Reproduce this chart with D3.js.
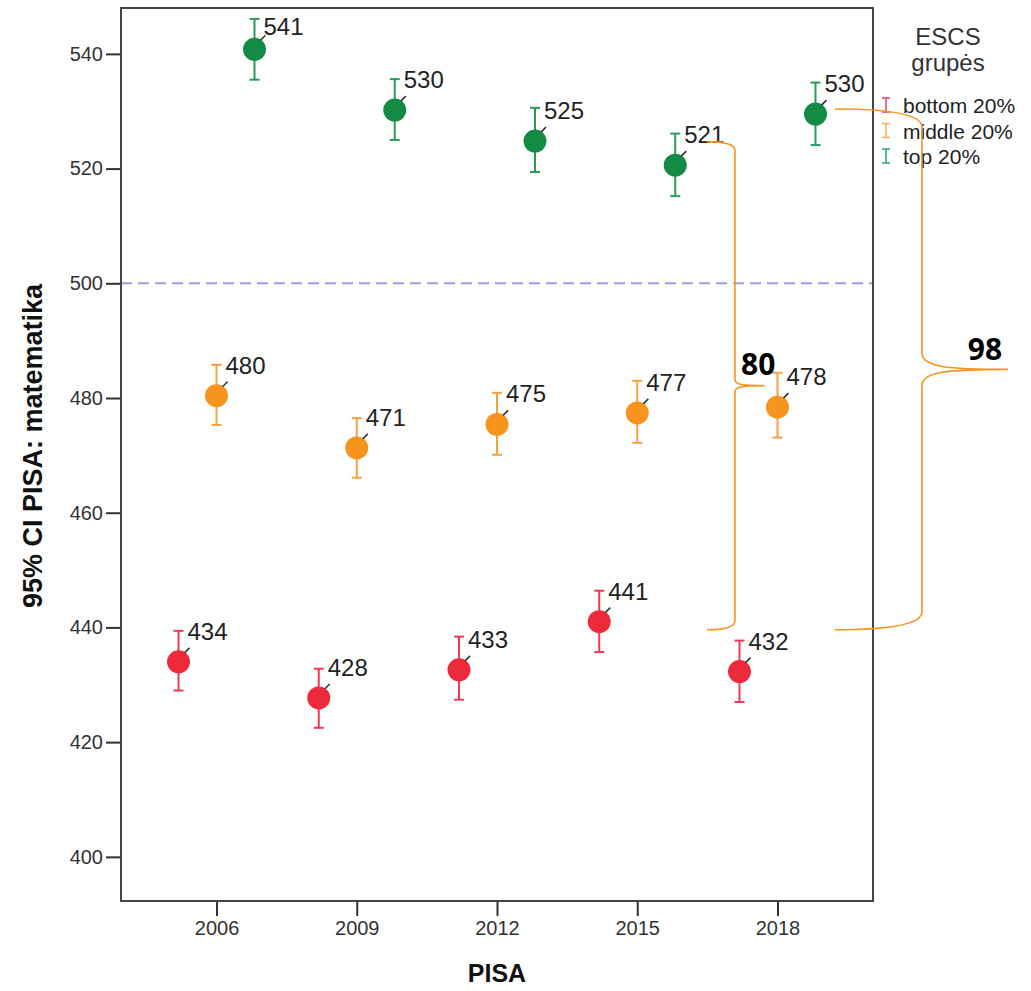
<!DOCTYPE html>
<html>
<head>
<meta charset="utf-8">
<script src="https://cdn.jsdelivr.net/npm/d3@7/dist/d3.min.js"></script>
<style>
  html, body { margin: 0; padding: 0; background: #fff; }
  svg { display: block; }
</style>
</head>
<body>
<svg id="chart" width="1031" height="991"></svg>
<script>
// ---------- data ----------
const years = [2006, 2009, 2012, 2015, 2018];
const groups = ["bottom 20%", "middle 20%", "top 20%"];
const bottomMean = [434.0, 427.7, 432.6, 441.0, 432.3];
const bottomLow  = [429.0, 422.5, 427.4, 435.7, 427.0];
const bottomHigh = [439.4, 432.8, 438.4, 446.4, 437.7];
const middleMean = [480.4, 471.3, 475.4, 477.4, 478.4];
const middleLow  = [475.3, 466.1, 470.1, 472.2, 473.1];
const middleHigh = [485.8, 476.5, 480.9, 483.0, 484.4];
const topMean    = [540.8, 530.2, 524.8, 520.6, 529.5];
const topLow     = [535.5, 525.0, 519.4, 515.2, 524.1];
const topHigh    = [546.1, 535.6, 530.6, 526.1, 535.0];
const yTicks = [400, 420, 440, 460, 480, 500, 520, 540];
const referenceValue = 500;
const legendTitle = ["ESCS", "grupės"];
const yTitle = "95% CI PISA: matematika";
const xTitle = "PISA";
// annotation braces (in data units: year position, score)
const braceLabels = ["80", "98"];
const braceTop = [524.7, 530.4];
const braceBottom = [439.6, 439.6];
const braceArmYear = [2016.49, 2019.23];
const braceSpineYear = [2017.09, 2021.09];
const braceTipYear = [2017.73, 2022.93];
const braceLabelYear = [2017.22, 2022.07];
const braceLabelValue = [484.0, 486.6];

// ---------- styling ----------
const dotColors = ["#ec2a3c", "#f7941d", "#138b45"];
const barColors = ["#ee3a52", "#f6a043", "#2a9a5c"];
const legendColors = ["#e8457a", "#f2b26e", "#3aa57a"];

const series = [
  {mean: bottomMean, lo: bottomLow, hi: bottomHigh},
  {mean: middleMean, lo: middleLow, hi: middleHigh},
  {mean: topMean, lo: topLow, hi: topHigh}
];

const svg = d3.select("#chart");
const plot = {left: 121, right: 873, top: 8, bottom: 901};

const x = d3.scalePoint().domain(years).range([plot.left, plot.right]).padding(0.681);
const xo = d3.scalePoint().domain(groups).range([-38, 38]);
const xl = d3.scaleLinear().domain([years[0], years[years.length - 1]])
  .range([x(years[0]), x(years[years.length - 1])]);
const y = d3.scaleLinear().domain([392.3, 548.0]).range([plot.bottom, plot.top]);

const font = "'Liberation Sans', Arial, sans-serif";

// reference line
svg.append("line")
  .attr("x1", plot.left).attr("x2", plot.right)
  .attr("y1", y(referenceValue)).attr("y2", y(referenceValue))
  .attr("stroke", "#9d9dd6").attr("stroke-width", 2)
  .attr("stroke-dasharray", "11,6");

// axes
const yAxis = d3.axisLeft(y).tickValues(yTicks).tickSize(15).tickPadding(3);
const gy = svg.append("g").attr("transform", `translate(${plot.left},0)`).call(yAxis);
gy.select(".domain").remove();
gy.selectAll(".tick line").attr("stroke", "#333").attr("stroke-width", 2);
gy.selectAll(".tick text").attr("font-family", font).attr("font-size", 20).attr("fill", "#333");

const xAxis = d3.axisBottom(x).tickSize(15).tickPadding(5);
const gx = svg.append("g").attr("transform", `translate(0,${plot.bottom})`).call(xAxis);
gx.select(".domain").remove();
gx.selectAll(".tick line").attr("stroke", "#333").attr("stroke-width", 2);
gx.selectAll(".tick text").attr("font-family", font).attr("font-size", 20).attr("fill", "#333");

// frame
svg.append("rect")
  .attr("x", plot.left).attr("y", plot.top)
  .attr("width", plot.right - plot.left).attr("height", plot.bottom - plot.top)
  .attr("fill", "none").attr("stroke", "#444").attr("stroke-width", 2);

// titles
svg.append("text")
  .attr("transform", `translate(42,${(y(540) + y(420)) / 2 + 48}) rotate(-90)`)
  .attr("text-anchor", "middle")
  .attr("font-family", font).attr("font-weight", "bold").attr("font-size", 27)
  .attr("fill", "#111").text(yTitle);

svg.append("text")
  .attr("x", (plot.left + plot.right) / 2).attr("y", 982)
  .attr("text-anchor", "middle")
  .attr("font-family", font).attr("font-weight", "bold").attr("font-size", 25)
  .attr("fill", "#111").text(xTitle);

// data marks
const capW = 5;
series.forEach((s, gi) => {
  const g = svg.append("g");
  years.forEach((yr, i) => {
    const cx = x(yr) + xo(groups[gi]);
    const cyv = y(s.mean[i]);
    // whisker
    g.append("line").attr("x1", cx).attr("x2", cx)
      .attr("y1", y(s.hi[i])).attr("y2", y(s.lo[i]))
      .attr("stroke", barColors[gi]).attr("stroke-width", 2);
    [s.hi[i], s.lo[i]].forEach(v => {
      g.append("line").attr("x1", cx - capW).attr("x2", cx + capW)
        .attr("y1", y(v)).attr("y2", y(v))
        .attr("stroke", barColors[gi]).attr("stroke-width", 2);
    });
    // dot
    g.append("circle").attr("cx", cx).attr("cy", cyv).attr("r", 11.5)
      .attr("fill", dotColors[gi]);
    // leader
    g.append("line").attr("x1", cx + 6).attr("y1", cyv - 9)
      .attr("x2", cx + 11).attr("y2", cyv - 14)
      .attr("stroke", "#333").attr("stroke-width", 1.6);
    // label
    g.append("text")
      .attr("x", cx + 9).attr("y", Math.max(cyv - 22, plot.top + 27))
      .attr("font-family", font).attr("font-size", 24).attr("fill", "#222")
      .text(Math.round(s.mean[i]));
  });
});

// legend
svg.append("text").attr("x", 948).attr("y", 45).attr("text-anchor", "middle")
  .attr("font-family", font).attr("font-size", 24).attr("fill", "#333").text(legendTitle[0]);
svg.append("text").attr("x", 948).attr("y", 71).attr("text-anchor", "middle")
  .attr("font-family", font).attr("font-size", 24).attr("fill", "#333").text(legendTitle[1]);
groups.forEach((name, gi) => {
  const by = 113 + gi * 25.5;
  const sx = 886;
  const lg = svg.append("g");
  lg.append("line").attr("x1", sx).attr("x2", sx).attr("y1", by - 15).attr("y2", by - 1)
    .attr("stroke", legendColors[gi]).attr("stroke-width", 1.6);
  [by - 15, by - 1].forEach(yy => lg.append("line")
    .attr("x1", sx - 4).attr("x2", sx + 4).attr("y1", yy).attr("y2", yy)
    .attr("stroke", legendColors[gi]).attr("stroke-width", 1.6));
  lg.append("text").attr("x", 903).attr("y", by)
    .attr("font-family", font).attr("font-size", 21).attr("fill", "#222").text(name);
});

// braces
function bracePath(xa, xv, xt, yt, yb, r1, r2) {
  const ym = (yt + yb) / 2;
  const p = d3.path();
  p.moveTo(xa, yt);
  p.quadraticCurveTo(xv, yt, xv, yt + r1);
  p.lineTo(xv, ym - r2);
  p.bezierCurveTo(xv, ym - r2 * 0.15, xv + (xt - xv) * 0.3, ym, xt, ym);
  p.bezierCurveTo(xv + (xt - xv) * 0.3, ym, xv, ym + r2 * 0.15, xv, ym + r2);
  p.lineTo(xv, yb - r1);
  p.quadraticCurveTo(xv, yb, xa, yb);
  return p.toString();
}
braceLabels.forEach((lab, i) => {
  const r1 = i === 0 ? 9 : 18;
  const r2 = i === 0 ? 6 : 16;
  svg.append("path")
    .attr("d", bracePath(xl(braceArmYear[i]), xl(braceSpineYear[i]), xl(braceTipYear[i]),
      y(braceTop[i]), y(braceBottom[i]), r1, r2))
    .attr("fill", "none").attr("stroke", "#f7941d").attr("stroke-width", 1.6);
  svg.append("text")
    .attr("x", xl(braceLabelYear[i])).attr("y", y(braceLabelValue[i]))
    .attr("font-family", "'Open Sans', 'Noto Sans', sans-serif")
    .attr("font-weight", "bold").attr("font-size", 30).attr("fill", "#000")
    .text(lab);
});
</script>
</body>
</html>
